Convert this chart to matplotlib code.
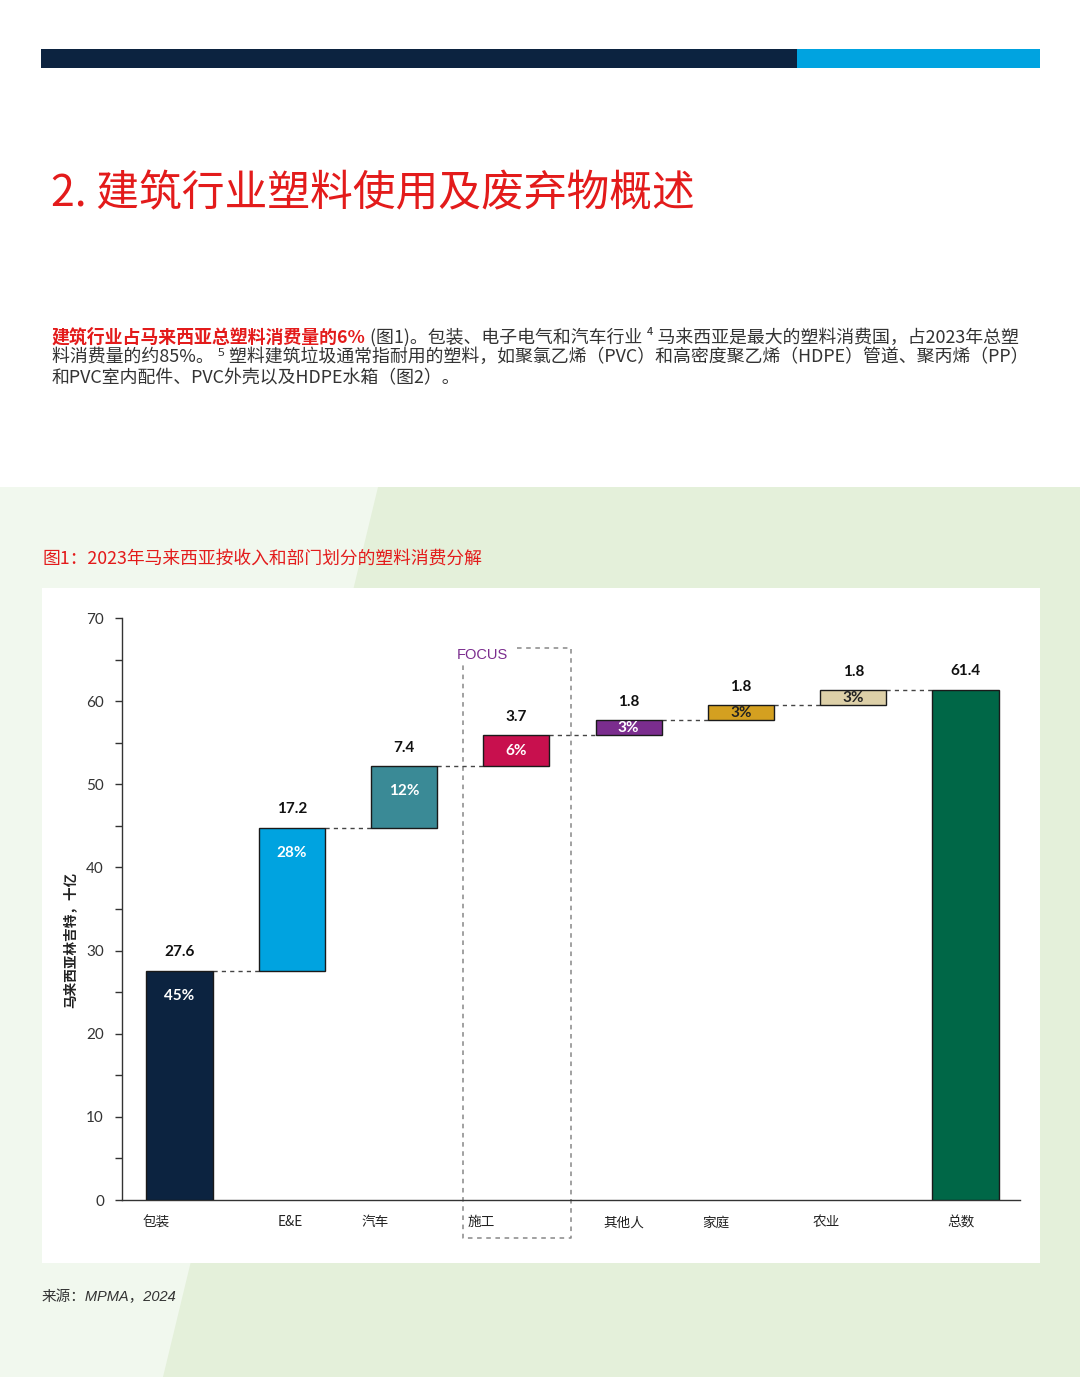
import matplotlib.pyplot as plt
from matplotlib.patches import Rectangle, Polygon
import numpy as np

plt.rcParams['font.family'] = ['Noto Sans CJK SC', 'DejaVu Sans']

# data
categories = ["包装", "E&E", "汽车", "施工", "其他人", "家庭", "农业", "总数"]
values = [27.6, 17.2, 7.4, 3.7, 1.8, 1.8, 1.8]
total = 61.4
value_labels = ["27.6", "17.2", "7.4", "3.7", "1.8", "1.8", "1.8", "61.4"]
pct_labels = ["45%", "28%", "12%", "6%", "3%", "3%", "3%", ""]
colors = ["#0c2340", "#00a3e0", "#3a8a96", "#c8104e", "#7b2d8e", "#d4a020", "#ddd0a8", "#006747"]
pct_colors = ["white", "white", "white", "white", "white", "#222222", "#222222", "white"]
# label positions are slightly off the bar centres in the original
label_pos = [-0.21, 0.99, 1.74, 2.69, 3.96, 4.78, 5.76, 6.96]

W, H = 1080, 1398
fig = plt.figure(figsize=(W / 100, H / 100), dpi=100)

def fx(px):
    return px / W

def fy(py):
    return 1 - py / H

# page background
bg = fig.add_axes([0, 0, 1, 1])
bg.set_xlim(0, W)
bg.set_ylim(H, 0)
bg.axis("off")
bg.add_patch(Rectangle((0, 487), W, 890, color="#e4f0da", lw=0))
bg.add_patch(Polygon([(0, 487), (378, 487), (163, 1377), (0, 1377)], closed=True, color="#f1f8ee", lw=0))
bg.add_patch(Rectangle((42, 588), 998, 675, color="white", lw=0))
bg.add_patch(Rectangle((41, 49), 756, 19, color="#0c2340", lw=0))
bg.add_patch(Rectangle((797, 49), 243, 19, color="#00a3e0", lw=0))

fig.text(fx(51), fy(194), "2. 建筑行业塑料使用及废弃物概述", color="#e31b1b", fontsize=30.8,
         va="center", ha="left")

# paragraph
txt_color = "#333333"
fs = 12.9
t1 = fig.text(fx(52), fy(337), "建筑行业占马来西亚总塑料消费量的6%", color="#e31b1b", fontsize=fs,
              fontweight="bold", va="center")
fig.canvas.draw()
x_end = t1.get_window_extent().x1
fig.text(x_end / W, fy(337), " (图1)。包装、电子电气和汽车行业 ⁴ 马来西亚是最大的塑料消费国，占2023年总塑",
         color=txt_color, fontsize=fs, va="center")
fig.text(fx(52), fy(357), "料消费量的约85%。 ⁵ 塑料建筑垃圾通常指耐用的塑料，如聚氯乙烯（PVC）和高密度聚乙烯（HDPE）管道、聚丙烯（PP）",
         color=txt_color, fontsize=fs, va="center")
fig.text(fx(52), fy(378), "和PVC室内配件、PVC外壳以及HDPE水箱（图2）。",
         color=txt_color, fontsize=fs, va="center")

fig.text(fx(42), fy(559), "图1：2023年马来西亚按收入和部门划分的塑料消费分解", color="#e31b1b",
         fontsize=12.8, va="center")
fig.text(fx(42), fy(1297), "来源：MPMA，2024", color="#333333", fontsize=10.5, style="italic",
         family=["Liberation Sans", "Noto Sans CJK SC"], va="center")

# chart
ax = fig.add_axes([fx(122), fy(1200), fx(1020) - fx(122), fy(618) - fy(1200)])
ax.patch.set_alpha(0)
x = np.arange(len(categories))
cum = np.cumsum(values)
bottoms = list(np.concatenate([[0], cum[:-1]])) + [0]
heights = values + [total]
width = 0.59
ax.bar(x, heights, bottom=bottoms, width=width, color=colors, edgecolor="#1a1a1a", linewidth=1, zorder=3)

tops = [b + h for b, h in zip(bottoms, heights)]
for i in range(len(categories) - 1):
    ax.plot([x[i] + width / 2, x[i + 1] - width / 2], [tops[i], tops[i]], ls=(0, (3, 3)),
            color="#444444", lw=1, zorder=2)

for i in range(len(categories)):
    ax.annotate(value_labels[i], (x[i], tops[i]), xytext=(0, 8), textcoords="offset points",
                ha="center", va="bottom", fontsize=11, fontweight="bold", family="Lato", color="#111111")
    if pct_labels[i]:
        if heights[i] < 4:
            ypos, off, va = bottoms[i] + heights[i] / 2, 0, "center"
        else:
            ypos, off, va = tops[i], -13, "top"
        ax.annotate(pct_labels[i], (x[i], ypos), xytext=(0, off), textcoords="offset points",
                    ha="center", va=va, fontsize=11, fontweight="bold", family="Lato",
                    color=pct_colors[i])

ax.set_xlim(-0.512, 7.485)
ax.set_ylim(0, 70)
ax.set_yticks(np.arange(0, 71, 10))
ax.set_yticks(np.arange(5, 70, 10), minor=True)
ax.tick_params(axis="y", which="both", length=5, width=1, color="#333333", labelsize=11,
               labelcolor="#333333", pad=8)
for lab in ax.get_yticklabels():
    lab.set_family("Lato")
ax.set_xticks(label_pos)
ax.set_xticklabels(categories, fontsize=9.8, color="#222222")
ax.tick_params(axis="x", length=0, pad=11)
for s in ["top", "right"]:
    ax.spines[s].set_visible(False)
for s in ["left", "bottom"]:
    ax.spines[s].set_color("#333333")
    ax.spines[s].set_linewidth(1)

# focus box (top edge leaves room for the FOCUS label)
fc = "#888888"
ax.plot([3.005, 3.486, 3.486, 2.524, 2.524], [66.4, 66.4, -4.55, -4.55, 64.7], ls=(0, (3, 3)),
        color=fc, lw=1.1, clip_on=False, zorder=1)
ax.text(2.47, 65.6, "FOCUS", color="#7b2d8e", fontsize=10.5, va="center", ha="left",
        family="Liberation Sans", clip_on=False)

fig.text(fx(70), fy(940), "马来西亚林吉特，十亿", rotation=90, fontsize=9.8, color="#222222",
         fontweight="bold", va="center", ha="center")

fig.savefig("out.png", dpi=100)
